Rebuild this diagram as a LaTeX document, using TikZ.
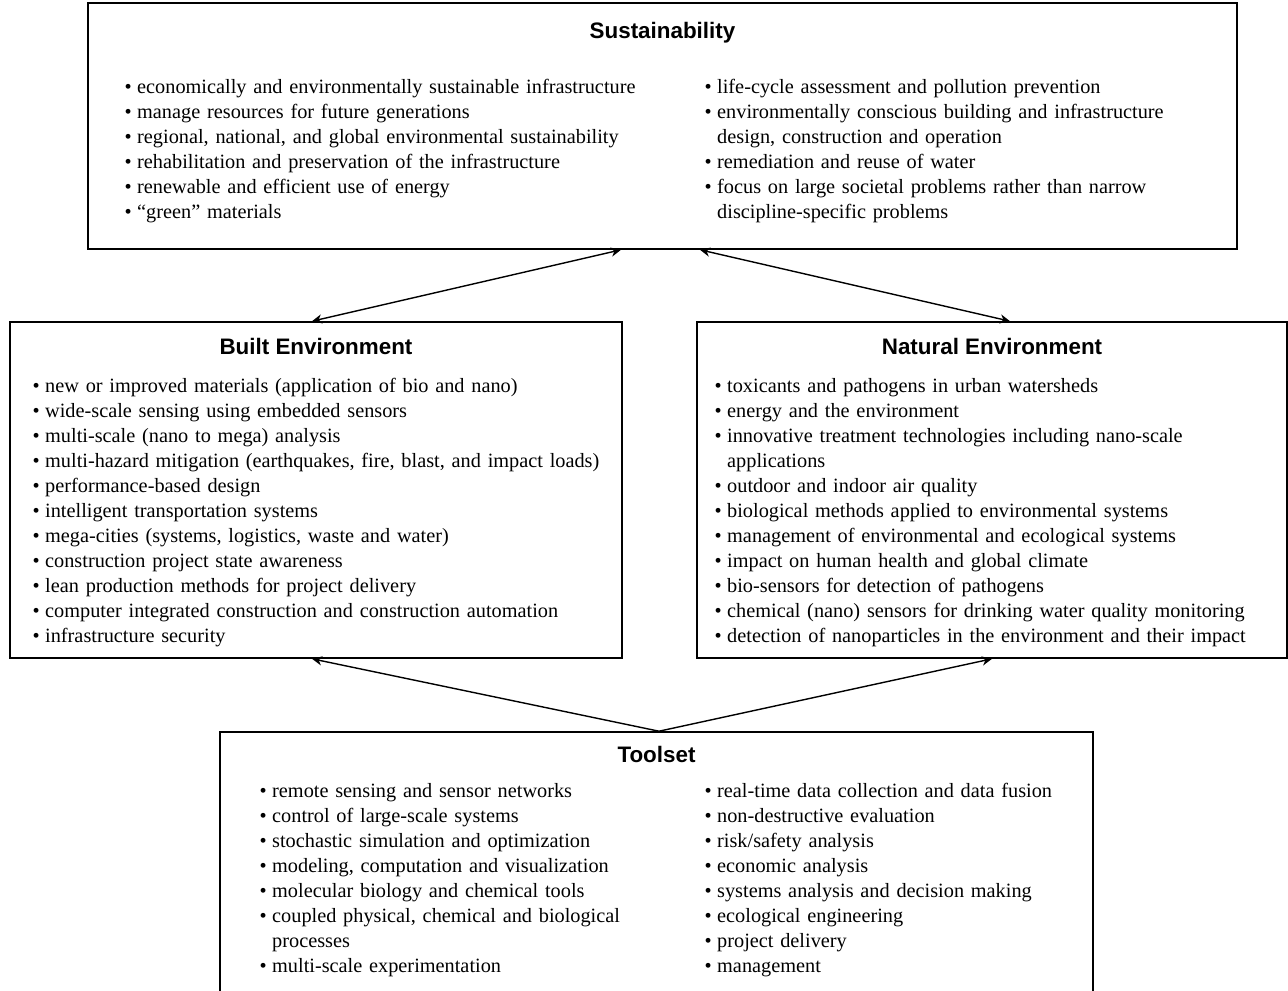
\documentclass[tikz,border=0pt]{standalone}
\usepackage{fontspec}
\setmainfont{Liberation Serif}
\setsansfont{Liberation Sans}
\usepackage{tikz}
\usetikzlibrary{positioning,arrows.meta}
\tikzstyle{panel}   = [rectangle, draw=black, line width=0.8pt, inner sep=0pt]
\tikzstyle{heading} = [font=\sffamily\bfseries\fontsize{11.2}{13}\selectfont, inner sep=0pt]
\tikzstyle{bullets} = [font=\fontsize{10.15}{12.5}\selectfont, text width=290pt, align=left, inner sep=0pt]
\tikzstyle{arrow}   = [line width=0.7pt,->,>={Stealth[length=5pt,width=4.6pt,inset=1.6pt]}]
\newcommand{\itm}{\par\noindent\hangindent=6.3pt\hangafter=1\makebox[6.3pt][l]{\textbullet}}

\begin{document}
\begin{tikzpicture}[x=0.5pt, y=-0.5pt]
	\useasboundingbox (0,0) rectangle (1288,990);
	\node[panel, minimum width=574.5pt, minimum height=123pt] (sus) at (662.5,126) {};
	\node[panel, minimum width=306pt, minimum height=168pt] (built) at (316,490) {};
	\node[panel, minimum width=295pt, minimum height=168pt] (nat) at (992,490) {};
	\node[panel, minimum width=436.5pt, minimum height=135pt] (tool) at (656.5,867) {};

	\node[heading, below=18pt of sus.north, anchor=base] (sus-title) {Sustainability};
	\node[heading, below=16.5pt of built.north, anchor=base] (built-title) {Built Environment};
	\node[heading, below=16.5pt of nat.north, anchor=base] (nat-title) {Natural Environment};
	\node[heading, below=15.5pt of tool.north, anchor=base] (tool-title) {Toolset};

	\node[bullets, below right=33pt and 18.5pt of sus.north west, anchor=base west] (sus-left) {
		\itm economically and environmentally sustainable infrastructure
		\itm manage resources for future generations
		\itm regional, national, and global environmental sustainability
		\itm rehabilitation and preservation of the infrastructure
		\itm renewable and efficient use of energy
		\itm “green” materials\par};
	\node[bullets, below right=33pt and 308.5pt of sus.north west, anchor=base west] (sus-right) {
		\itm life-cycle assessment and pollution prevention
		\itm environmentally conscious building and infrastructure\newline design, construction and operation
		\itm remediation and reuse of water
		\itm focus on large societal problems rather than narrow\newline discipline-specific problems\par};
	\node[bullets, below right=23pt and 11.5pt of built.north west, anchor=base west] (built-list) {
		\itm new or improved materials (application of bio and nano)
		\itm wide-scale sensing using embedded sensors
		\itm multi-scale (nano to mega) analysis
		\itm multi-hazard mitigation (earthquakes, fire, blast, and impact loads)
		\itm performance-based design
		\itm intelligent transportation systems
		\itm mega-cities (systems, logistics, waste and water)
		\itm construction project state awareness
		\itm lean production methods for project delivery
		\itm computer integrated construction and construction automation
		\itm infrastructure security\par};
	\node[bullets, below right=23pt and 9pt of nat.north west, anchor=base west] (nat-list) {
		\itm toxicants and pathogens in urban watersheds
		\itm energy and the environment
		\itm innovative treatment technologies including nano-scale\newline applications
		\itm outdoor and indoor air quality
		\itm biological methods applied to environmental systems
		\itm management of environmental and ecological systems
		\itm impact on human health and global climate
		\itm bio-sensors for detection of pathogens
		\itm chemical (nano) sensors for drinking water quality monitoring
		\itm detection of nanoparticles in the environment and their impact\par};
	\node[bullets, below right=20.5pt and 20pt of tool.north west, anchor=base west] (tool-left) {
		\itm remote sensing and sensor networks
		\itm control of large-scale systems
		\itm stochastic simulation and optimization
		\itm modeling, computation and visualization
		\itm molecular biology and chemical tools
		\itm coupled physical, chemical and biological\newline processes
		\itm multi-scale experimentation\par};
	\node[bullets, below right=20.5pt and 242.5pt of tool.north west, anchor=base west] (tool-right) {
		\itm real-time data collection and data fusion
		\itm non-destructive evaluation
		\itm risk/safety analysis
		\itm economic analysis
		\itm systems analysis and decision making
		\itm ecological engineering
		\itm project delivery
		\itm management\par};

	\draw[arrow,<->] ([xshift=-20.75pt]sus.south) -- ([xshift=-2pt]built.north);
	\draw[arrow,<->] ([xshift=18.75pt]sus.south) -- ([xshift=9pt]nat.north);
	\draw[arrow] ([xshift=1.25pt]tool.north) -- ([xshift=-2pt]built.south);
	\draw[arrow] ([xshift=1.25pt]tool.north) -- (nat.south);
\end{tikzpicture}
\end{document}
